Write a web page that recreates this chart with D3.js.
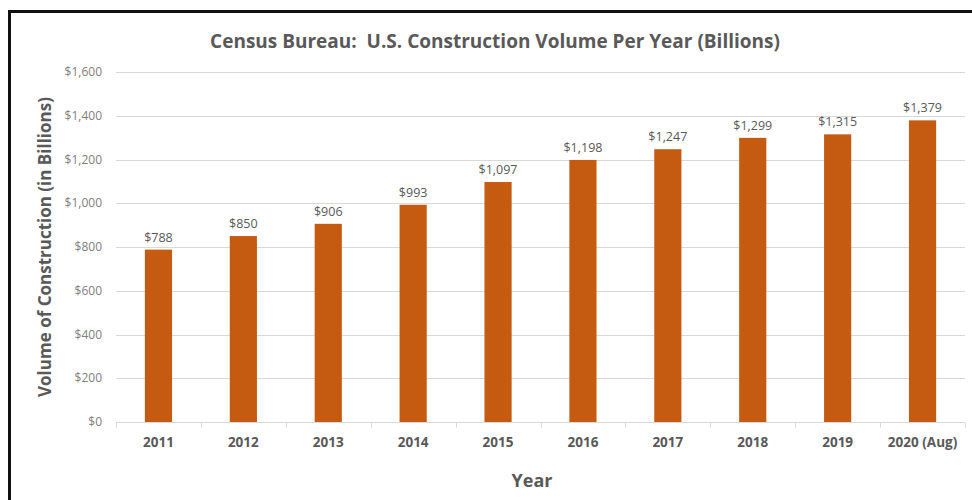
<!DOCTYPE html>
<html>
<head>
<meta charset="utf-8">
<script src="https://cdn.jsdelivr.net/npm/d3@7"></script>
<style>
  body { margin: 0; background: #fff; }
  svg { display: block; font-family: "Open Sans", Lato, sans-serif; }
</style>
</head>
<body>
<div id="viz"></div>
<script>
const years = ['2011', '2012', '2013', '2014', '2015', '2016', '2017', '2018', '2019', '2020 (Aug)'];
const volumes = [788, 850, 906, 993, 1097, 1198, 1247, 1299, 1315, 1379];
const yTicks = [0, 200, 400, 600, 800, 1000, 1200, 1400, 1600];

const width = 972, height = 500;
const margin = {top: 72, right: 7, bottom: 78, left: 116};

const svg = d3.select('#viz').append('svg')
  .attr('width', width)
  .attr('height', height)
  .attr('role', 'img')
  .attr('aria-label', 'U.S. construction volume per year, billions');

// chart frame
svg.append('rect')
  .attr('x', 9.5).attr('y', 11.5)
  .attr('width', 980).attr('height', 500)
  .attr('fill', 'none').attr('stroke', '#111').attr('stroke-width', 3);

const x = d3.scaleBand().domain(years).range([margin.left, width - margin.right]).paddingInner(0.68).paddingOuter(0.34);
const y = d3.scaleLinear().domain([0, 1600]).range([height - margin.bottom, margin.top]);

// gridlines
svg.append('g').selectAll('line').data(yTicks.slice(1)).join('line')
  .attr('x1', margin.left).attr('x2', width - margin.right)
  .attr('y1', d => Math.round(y(d)) + 0.5).attr('y2', d => Math.round(y(d)) + 0.5)
  .attr('stroke', '#d9d9d9');

// y tick labels
svg.append('g').selectAll('text').data(yTicks).join('text')
  .attr('x', 102).attr('y', d => y(d)).attr('dy', '0.35em')
  .attr('text-anchor', 'end')
  .attr('font-size', 12).attr('fill', '#808080')
  .text(d => '$' + d3.format(',')(d));

// bars
svg.append('g').selectAll('rect').data(volumes).join('rect')
  .attr('x', (d, i) => x(years[i]))
  .attr('y', d => y(d))
  .attr('width', x.bandwidth())
  .attr('height', d => y(0) - y(d))
  .attr('fill', '#c55a11');

// value labels
svg.append('g').selectAll('text').data(volumes).join('text')
  .attr('x', (d, i) => x(years[i]) + x.bandwidth() / 2)
  .attr('y', d => y(d) - 8)
  .attr('text-anchor', 'middle')
  .attr('font-size', 12.5).attr('fill', '#595959')
  .text(d => '$' + d3.format(',')(d));

// x axis line + ticks
const base = Math.round(y(0)) + 0.5;
svg.append('line')
  .attr('x1', margin.left).attr('x2', width - margin.right)
  .attr('y1', base).attr('y2', base)
  .attr('stroke', '#d9d9d9');
const step = x.step();
svg.append('g').selectAll('line').data(d3.range(years.length + 1)).join('line')
  .attr('x1', i => Math.round(margin.left + i * step) + 0.5)
  .attr('x2', i => Math.round(margin.left + i * step) + 0.5)
  .attr('y1', base).attr('y2', base + 5)
  .attr('stroke', '#d9d9d9');

// x labels
svg.append('g').selectAll('text').data(years).join('text')
  .attr('x', d => x(d) + x.bandwidth() / 2)
  .attr('y', 447)
  .attr('text-anchor', 'middle')
  .attr('font-size', 13.5).attr('font-weight', 'bold').attr('fill', '#595959')
  .text(d => d);

// titles
svg.append('text')
  .attr('x', 495).attr('y', 48)
  .attr('text-anchor', 'middle')
  .attr('font-size', 19).attr('font-weight', 'bold').attr('fill', '#595959')
  .attr('xml:space', 'preserve')
  .text('Census Bureau:  U.S. Construction Volume Per Year (Billions)');

svg.append('text')
  .attr('x', 532).attr('y', 487)
  .attr('text-anchor', 'middle')
  .attr('font-size', 18).attr('font-weight', 'bold').attr('fill', '#595959')
  .text('Year');

svg.append('text')
  .attr('transform', 'translate(51,' + (height - margin.bottom + margin.top) / 2 + ') rotate(-90)')
  .attr('text-anchor', 'middle')
  .attr('font-size', 17).attr('font-weight', 'bold').attr('fill', '#595959')
  .text('Volume of Construction (in Billions)');
</script>
</body>
</html>
